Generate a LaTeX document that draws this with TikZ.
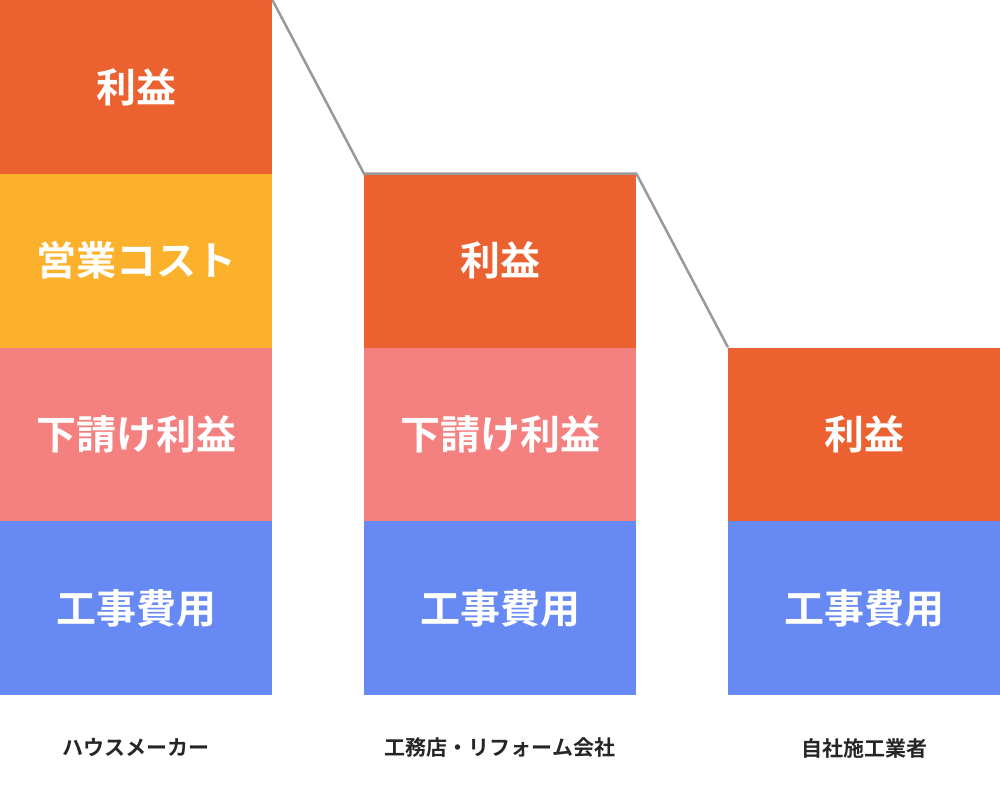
\documentclass[tikz,border=0pt]{standalone}
\usepackage{fontspec}
\newfontfamily\jpfont{Noto Sans CJK JP Bold}
\definecolor{profit}{HTML}{EC6130}
\definecolor{sales}{HTML}{FCB12D}
\definecolor{subprofit}{HTML}{F58080}
\definecolor{work}{HTML}{6689F3}
\definecolor{stepgray}{HTML}{999999}
\tikzset{
  block/.style={anchor=north west,inner sep=0pt,minimum width=272pt,minimum height=173.7pt,
    text=white,font=\jpfont\fontsize{40}{40}\selectfont},
  caption/.style={font=\jpfont\fontsize{21}{21}\selectfont,text=black!85}
}
\begin{document}
\begin{tikzpicture}[x=1pt,y=-1pt]
\useasboundingbox (0,0) rectangle (1000,800);
% house maker
\node[block,fill=profit] (hm1) at (0,0) {利益};
\node[block,fill=sales] (hm2) at (0,173.7) {営業コスト};
\node[block,fill=subprofit] (hm3) at (0,347.4) {下請け利益};
\node[block,fill=work] (hm4) at (0,521.1) {工事費用};
\node[caption] (hmc) at (136,748) {ハウスメーカー};
% contractor
\node[block,fill=profit] (kt1) at (364,173.7) {利益};
\node[block,fill=subprofit] (kt2) at (364,347.4) {下請け利益};
\node[block,fill=work] (kt3) at (364,521.1) {工事費用};
\node[caption] (ktc) at (500,748) {工務店・リフォーム会社};
% own builder
\node[block,fill=profit] (js1) at (728,347.4) {利益};
\node[block,fill=work] (js2) at (728,521.1) {工事費用};
\node[caption] (jsc) at (864,748) {自社施工業者};
\draw[stepgray,line width=2.5pt] (hm1.north east) -- (kt1.north west) -- (kt1.north east) -- (js1.north west);
\end{tikzpicture}
\end{document}
